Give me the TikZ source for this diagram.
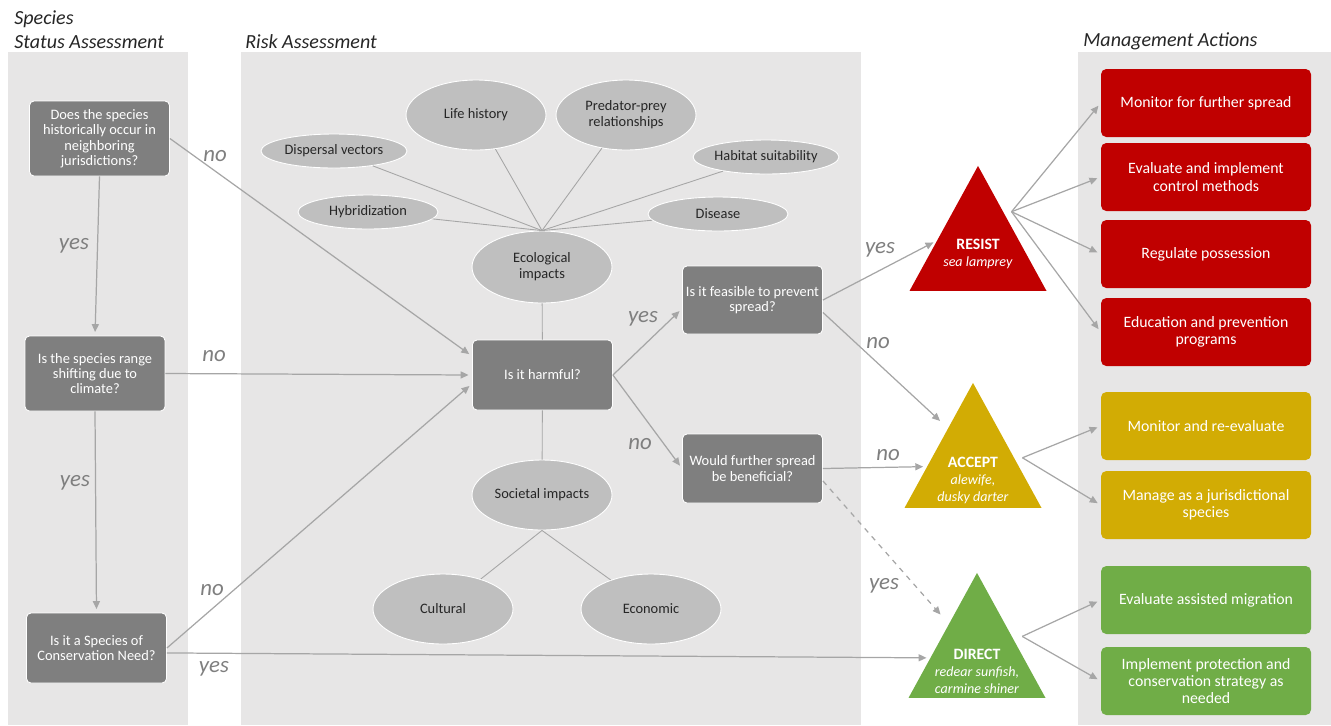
\documentclass[tikz,border=0pt]{standalone}
\usepackage{fontspec}
\setmainfont{Carlito}
\usetikzlibrary{arrows.meta,shapes.geometric,calc}

\definecolor{panel}{RGB}{231,230,230}
\definecolor{qgrey}{RGB}{127,127,127}
\definecolor{impgrey}{RGB}{191,191,191}
\definecolor{linegrey}{RGB}{166,166,166}
\definecolor{labgrey}{RGB}{127,127,127}
\definecolor{txtdark}{RGB}{38,38,38}
\definecolor{resistred}{RGB}{192,0,0}
\definecolor{acceptgold}{RGB}{210,172,4}
\definecolor{directgreen}{RGB}{112,173,71}

\begin{document}
\begin{tikzpicture}[x=0.02cm,y=-0.02cm,
        question/.style={draw=white, line width=0.5pt, fill=qgrey, rounded corners=2.5pt, minimum width=2.8cm, minimum height=1.5cm, inner sep=1pt, align=center, text=white, font=\fontsize{8.2}{8.8}\selectfont},
        impact/.style={ellipse, draw=white, line width=0.5pt, fill=impgrey, minimum width=2.8cm, minimum height=1.4cm, inner sep=0pt, align=center, text=txtdark, font=\fontsize{8.2}{9}\selectfont},
        factor/.style={impact, minimum height=0.68cm},
        strategy/.style={isosceles triangle, isosceles triangle stretches, shape border rotate=90, minimum width=2.74cm, minimum height=2.5cm, inner sep=0pt, anchor=apex},
        stratlabel/.style={align=center, text=white, font=\fontsize{8}{9.7}\selectfont},
        action/.style={rounded corners=3pt, minimum width=4.2cm, minimum height=1.36cm, inner sep=1pt, align=center, text=white, font=\fontsize{9}{9.8}\selectfont},
        arr/.style={draw=linegrey, line width=0.7pt, -{Triangle[length=4.5pt,width=4pt]}, shorten >=2pt},
        spoke/.style={draw=linegrey, line width=0.5pt},
        answer/.style={text=labgrey, font=\fontsize{13}{15}\selectfont\itshape},
        heading/.style={anchor=base west, inner sep=0pt, align=left, text=txtdark, font=\fontsize{11.4}{13.6}\selectfont\itshape}]

        \useasboundingbox (0,0) rectangle (1331,725);

        % columns
        \fill[panel] (8,52) rectangle (188,725);
        \fill[panel] (241,52) rectangle (861,725);
        \fill[panel] (1078,52) rectangle (1331,725);

        \node[heading] (hstatus) at (14,48) {Species\\Status Assessment};
        \node[heading] (hrisk) at (245,48) {Risk Assessment};
        \node[heading] (hman) at (1083,46) {Management Actions};

        % status questions
        \node[question] (q1) at (99.5,138.5) {Does the species\\historically occur in\\neighboring\\jurisdictions?};
        \node[question] (q2) at (95,373.5) {Is the species range\\shifting due to\\climate?};
        \node[question, minimum height=1.4cm] (q3) at (96.5,648) {Is it a Species of\\Conservation Need?};

        % risk
        \node[question, minimum height=1.4cm] (harm) at (542.5,375) {Is it harmful?};
        \node[question, minimum height=1.36cm] (feas) at (752.5,300) {Is it feasible to prevent\\spread?};
        \node[question, minimum height=1.38cm] (bene) at (752.5,468.5) {Would further spread\\be beneficial?};

        \node[impact, minimum height=1.44cm] (eco) at (542,267) {Ecological\\impacts};
        \node[impact] (soc) at (542,495) {Societal impacts};
        \node[impact] (cult) at (443,609) {Cultural};
        \node[impact] (econ) at (651,609) {Economic};

        \node[impact] (life) at (476,115) {Life history};
        \node[impact] (pred) at (626,115) {Predator-prey\\relationships};
        \node[factor, minimum width=2.92cm] (disp) at (334,151) {Dispersal vectors};
        \node[factor, minimum width=2.88cm] (habit) at (766,157) {Habitat suitability};
        \node[factor] (hyb) at (368,212) {Hybridization};
        \node[factor] (dis) at (718,214) {Disease};

        \draw[spoke] (eco.north) -- (disp);
        \draw[spoke] (eco.north) -- (life);
        \draw[spoke] (eco.north) -- (pred);
        \draw[spoke] (eco.north) -- (habit);
        \draw[spoke] (eco.north) -- (hyb);
        \draw[spoke] (eco.north) -- (dis);
        \draw[spoke] (eco) -- (harm);
        \draw[spoke] (harm) -- (soc);
        \draw[spoke] (soc.south) -- (cult);
        \draw[spoke] (soc.south) -- (econ);

        % strategies
        \node[strategy, fill=resistred] (resist) at (978,165) {};
        \node[strategy, fill=acceptgold] (accept) at (973,382) {};
        \node[strategy, fill=directgreen] (direct) at (977,572) {};
        \node[stratlabel] (resisttxt) at (978,254) {{\fontsize{9}{9.7}\selectfont\bfseries RESIST}\\\textit{sea lamprey}};
        \node[stratlabel] (accepttxt) at (973,480) {{\fontsize{9}{9.7}\selectfont\bfseries ACCEPT}\\\textit{alewife,}\\\textit{dusky darter}};
        \node[stratlabel] (directtxt) at (977,671) {{\fontsize{9}{9.7}\selectfont\bfseries DIRECT}\\\textit{redear sunfish,}\\\textit{carmine shiner}};

        % actions
        \node[action, fill=resistred] (a1) at (1206,103) {Monitor for further spread};
        \node[action, fill=resistred] (a2) at (1206,177) {Evaluate and implement\\control methods};
        \node[action, fill=resistred] (a3) at (1206,254) {Regulate possession};
        \node[action, fill=resistred] (a4) at (1206,332) {Education and prevention\\programs};
        \node[action, fill=acceptgold] (a5) at (1206,426) {Monitor and re-evaluate};
        \node[action, fill=acceptgold] (a6) at (1206,505) {Manage as a jurisdictional\\species};
        \node[action, fill=directgreen] (a7) at (1206,600) {Evaluate assisted migration};
        \node[action, fill=directgreen] (a8) at (1206,681) {Implement protection and\\conservation strategy as\\needed};

        % flow
        \draw[arr] (q1.south) -- (q2.north);
        \draw[arr] (q2.south) -- (q3.north);
        \draw[arr] (q1.east) -- (harm.165);
        \draw[arr] (q2.east) -- (harm.west);
        \draw[arr] (q3.east) -- (harm.187);
        \draw[arr] (q3.-4) -- ($(direct.apex)!0.68!(direct.left corner)$);
        \draw[arr] (harm.east) -- (feas.187);
        \draw[arr] (harm.east) -- (bene.west);
        \draw[arr] (feas.east) -- ($(resist.apex)!0.6!(resist.left corner)$);
        \draw[arr, shorten >=6pt] (feas.-10) -- ($(accept.apex)!0.365!(accept.left corner)$);
        \draw[arr] (bene.east) -- ($(accept.apex)!0.67!(accept.left corner)$);
        \draw[arr, dashed, shorten >=7pt] (bene.-10) -- ($(direct.apex)!0.41!(direct.left corner)$);

        \coordinate (resistfan) at ($(resist.apex)!0.37!(resist.right corner) + (8,0)$);
        \coordinate (acceptfan) at ($(accept.apex)!0.6!(accept.right corner) + (8,0)$);
        \coordinate (directfan) at ($(direct.apex)!0.51!(direct.right corner) + (10,0)$);
        \foreach \act in {a1,a2,a3,a4}
            \draw[arr] (resistfan) -- (\act.west);
        \foreach \act in {a5,a6}
            \draw[arr] (acceptfan) -- (\act.west);
        \foreach \act in {a7,a8}
            \draw[arr] (directfan) -- (\act.west);

        % answers
        \node[answer] (n1) at (215,156) {no};
        \node[answer] (y1) at (74,246) {yes};
        \node[answer] (n2) at (214,356) {no};
        \node[answer] (y2) at (75,483) {yes};
        \node[answer] (n3) at (212,590) {no};
        \node[answer] (y3) at (214,669) {yes};
        \node[answer] (y4) at (643,319) {yes};
        \node[answer] (n4) at (640,444) {no};
        \node[answer] (y5) at (880,250) {yes};
        \node[answer] (n5) at (878,343) {no};
        \node[answer] (n6) at (888,455) {no};
        \node[answer] (y6) at (884,586) {yes};

    \end{tikzpicture}
\end{document}
